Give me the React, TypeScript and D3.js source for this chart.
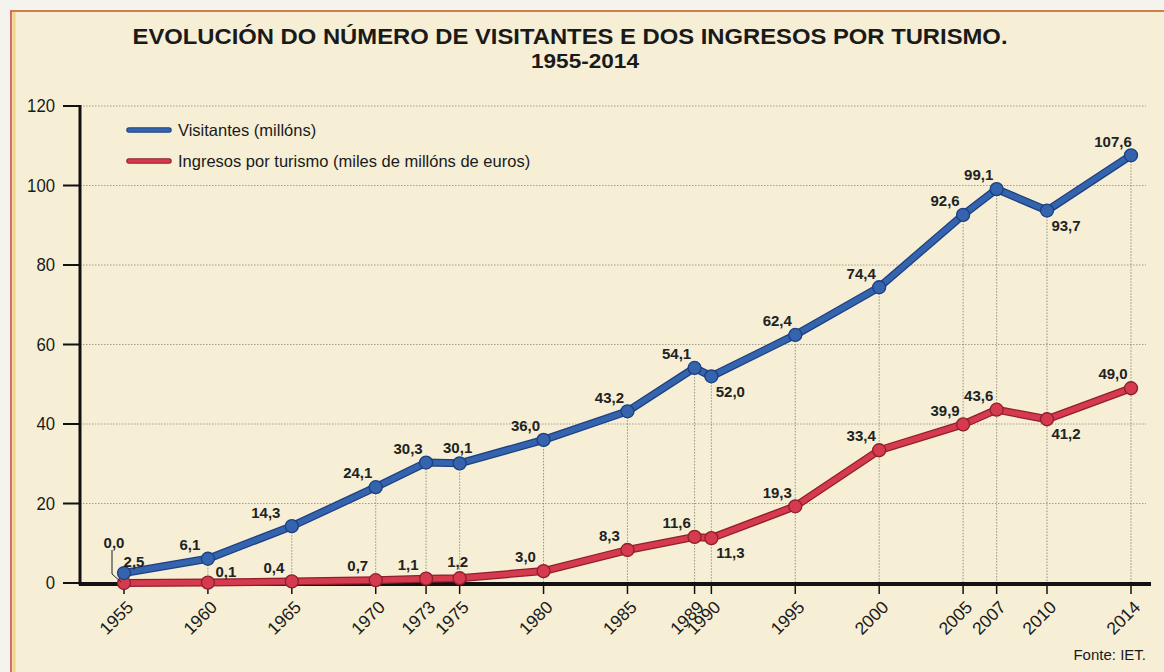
import React from "react";
import * as d3 from "d3";

// datos
const years = [1955, 1960, 1965, 1970, 1973, 1975, 1980, 1985, 1989, 1990, 1995, 2000, 2005, 2007, 2010, 2014];
const visitors = [2.5, 6.1, 14.3, 24.1, 30.3, 30.1, 36.0, 43.2, 54.1, 52.0, 62.4, 74.4, 92.6, 99.1, 93.7, 107.6];
const income = [0.0, 0.1, 0.4, 0.7, 1.1, 1.2, 3.0, 8.3, 11.6, 11.3, 19.3, 33.4, 39.9, 43.6, 41.2, 49.0];
// where each value label sits relative to its point
const visitorLabelPos = ["nne", "nw", "nww", "nw", "nw", "n", "nw", "nw", "nw", "se", "nw", "nw", "nw", "nw", "se", "nw"];
const incomeLabelPos = ["leader", "ne", "nw", "nw", "nw", "n", "nw", "nw", "nw", "se", "nw", "nw", "nw", "nw", "se", "nw"];
const yTicks = [0, 20, 40, 60, 80, 100, 120];
const seriesNames = ["Visitantes (millóns)", "Ingresos por turismo (miles de millóns de euros)"];
const titleLines = ["EVOLUCIÓN DO NÚMERO DE VISITANTES E DOS INGRESOS POR TURISMO.", "1955-2014"];
const sourceText = "Fonte: IET.";

const width = 1164;
const height = 672;
const font = "'Liberation Sans', Arial, Helvetica, sans-serif";

const blue = { inner: "#3464ae", outer: "#1e3f80" };
const red = { inner: "#d53a4f", outer: "#8f1f2e" };

const offsets: Record<string, [number, number]> = {
    nw: [-18, -14],
    nww: [-26, -13],
    n: [-2, -16],
    ne: [18, -11],
    nne: [10, -11],
    se: [19, 15],
    leader: [-10, -40],
};

const fmt = (v: number) => d3.format(".1f")(v).replace(".", ",");

function App() {
    const axisLeft = 80;
    const plotRight = 1146;

    // the source squeezes the last interval (2010-2014) to a full 5-year width
    const x = d3.scaleLinear().domain([1955, 2010, 2014]).range([124, 1047, 1131]);
    const y = d3.scaleLinear().domain([0, 120]).range([583, 106]);

    const line = d3
        .line<number>()
        .x((d, i) => x(years[i]))
        .y((d) => y(d));

    const series = [
        { values: visitors, color: blue, pos: visitorLabelPos },
        { values: income, color: red, pos: incomeLabelPos },
    ];

    return (
        <svg
            width={width}
            height={height}
            style={{ position: "absolute", left: 0, top: 0, background: "#f4f3ee" }}
        >
            <rect x={10} y={10} width={width - 10} height={height - 10} fill="#f6efd5" />
            <line x1={10} x2={width} y1={11} y2={11} stroke="#cf7f4a" strokeWidth={2} />
            <line x1={11} x2={11} y1={10} y2={height} stroke="#d96c62" strokeWidth={2} />
            <line x1={14} x2={14} y1={12} y2={height} stroke="#f1d68a" strokeWidth={3} />

            {/* title */}
            <text
                x={570}
                y={44}
                textAnchor="middle"
                fontFamily={font}
                fontWeight="bold"
                fontSize={22}
                fill="#1a1a1a"
                textLength={875}
                lengthAdjust="spacingAndGlyphs"
            >
                {titleLines[0]}
            </text>
            <text
                x={585}
                y={68}
                textAnchor="middle"
                fontFamily={font}
                fontWeight="bold"
                fontSize={20}
                fill="#1a1a1a"
                textLength={108}
                lengthAdjust="spacingAndGlyphs"
            >
                {titleLines[1]}
            </text>

            {/* grid */}
            {yTicks.map((t) => (
                <line
                    key={"g" + t}
                    x1={axisLeft}
                    x2={plotRight}
                    y1={y(t)}
                    y2={y(t)}
                    stroke="#8d8a80"
                    strokeWidth={0.8}
                    strokeDasharray="1.5,1.5"
                />
            ))}
            {years.map((yr, i) => (
                <line
                    key={"v" + yr}
                    x1={x(yr)}
                    x2={x(yr)}
                    y1={y(visitors[i])}
                    y2={y(0)}
                    stroke="#7d7a72"
                    strokeWidth={0.8}
                    strokeDasharray="1.5,1.5"
                />
            ))}

            {/* y axis */}
            <line x1={axisLeft} x2={axisLeft} y1={y(120) - 1} y2={y(0) + 2} stroke="#111" strokeWidth={3} />
            {yTicks.map((t) => (
                <g key={"yt" + t}>
                    <line x1={63} x2={axisLeft} y1={y(t)} y2={y(t)} stroke="#111" strokeWidth={2} />
                    <text
                        x={55}
                        y={y(t)}
                        dy="0.36em"
                        textAnchor="end"
                        fontFamily={font}
                        fontSize={18}
                        fill="#1a1a1a"
                        transform={"translate(55," + y(t) + ") scale(0.93,1) translate(-55," + -y(t) + ")"}
                    >
                        {t}
                    </text>
                </g>
            ))}

            {/* x axis */}
            <line x1={axisLeft - 1} x2={1151} y1={y(0) + 1} y2={y(0) + 1} stroke="#111" strokeWidth={4} />
            {years.map((yr) => (
                <g key={"xt" + yr}>
                    <line x1={x(yr)} x2={x(yr)} y1={y(0) + 2} y2={y(0) + 11} stroke="#111" strokeWidth={1.5} />
                    <text
                        transform={"translate(" + (x(yr) + 6) + "," + (y(0) + 21) + ") rotate(-45)"}
                        dy="0.35em"
                        textAnchor="end"
                        fontFamily={font}
                        fontSize={17.5}
                        fill="#1a1a1a"
                    >
                        {yr}
                    </text>
                </g>
            ))}

            {/* series: red first so blue sits on top */}
            {[series[1], series[0]].map((s, si) => (
                <g key={"s" + si}>
                    <path d={line(s.values) || ""} fill="none" stroke={s.color.outer} strokeWidth={8} strokeLinejoin="round" />
                    <path d={line(s.values) || ""} fill="none" stroke={s.color.inner} strokeWidth={5.5} strokeLinejoin="round" />
                    {s.values.map((v, i) => (
                        <circle
                            key={i}
                            cx={x(years[i])}
                            cy={y(v)}
                            r={6.5}
                            fill={s.color.inner}
                            stroke={s.color.outer}
                            strokeWidth={1.3}
                        />
                    ))}
                </g>
            ))}

            {/* value labels */}
            {series.map((s, si) =>
                s.values.map((v, i) => {
                    const px = x(years[i]);
                    const py = y(v);
                    const [dx, dy] = offsets[s.pos[i]];
                    return (
                        <g key={"l" + si + "-" + i}>
                            {s.pos[i] === "leader" && (
                                <path
                                    d={
                                        "M" + (px - 12) + "," + (py - 33) +
                                        "L" + (px - 12) + "," + (py - 9) +
                                        "L" + (px - 3) + "," + (py - 1)
                                    }
                                    fill="none"
                                    stroke="#222"
                                    strokeWidth={1}
                                />
                            )}
                            <text
                                x={px + dx}
                                y={py + dy}
                                dy="0.35em"
                                textAnchor="middle"
                                fontFamily={font}
                                fontWeight="bold"
                                fontSize={15}
                                fill="#222"
                            >
                                {fmt(v)}
                            </text>
                        </g>
                    );
                })
            )}

            {/* legend */}
            {[blue, red].map((c, i) => (
                <g key={"lg" + i}>
                    <line x1={129} x2={169} y1={130 + i * 31} y2={130 + i * 31} stroke={c.outer} strokeWidth={5.5} strokeLinecap="round" />
                    <line x1={129} x2={169} y1={130 + i * 31} y2={130 + i * 31} stroke={c.inner} strokeWidth={3.5} strokeLinecap="round" />
                    <text
                        x={178}
                        y={130 + i * 31}
                        dy="0.36em"
                        fontFamily={font}
                        fontSize={16.5}
                        fill="#1a1a1a"
                    >
                        {seriesNames[i]}
                    </text>
                </g>
            ))}

            <text x={1146} y={660} textAnchor="end" fontFamily={font} fontSize={15} fill="#1a1a1a">
                {sourceText}
            </text>
        </svg>
    );
}

export default App;
